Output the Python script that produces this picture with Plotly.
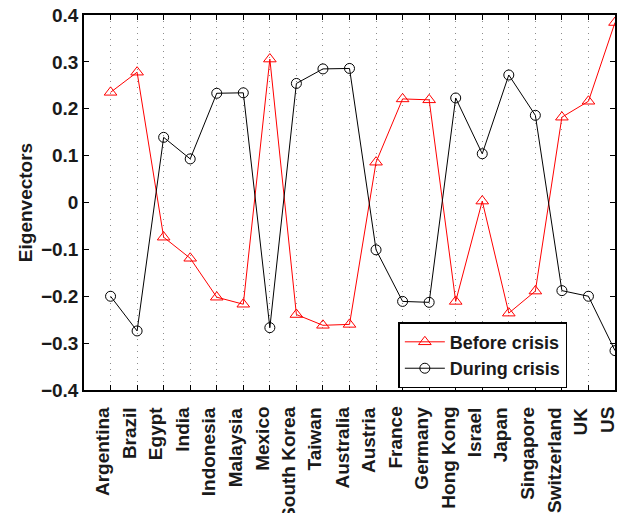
import plotly.graph_objects as go

countries = ["Argentina", "Brazil", "Egypt", "India", "Indonesia", "Malaysia", "Mexico",
             "South Korea", "Taiwan", "Australia", "Austria", "France", "Germany",
             "Hong Kong", "Israel", "Japan", "Singapore", "Switzerland", "UK", "US"]

before_crisis = [0.235, 0.278, -0.074, -0.119, -0.202, -0.217, 0.306,
                 -0.239, -0.262, -0.260, 0.086, 0.221, 0.219,
                 -0.211, 0.003, -0.236, -0.189, 0.182, 0.216, 0.384]

during_crisis = [-0.200, -0.274, 0.139, 0.093, 0.233, 0.234, -0.267,
                 0.254, 0.285, 0.286, -0.101, -0.211, -0.213,
                 0.223, 0.104, 0.272, 0.186, -0.188, -0.200, -0.316]

font_family = "Liberation Sans, Arial, sans-serif"
txt = "#1a1a1a"

fig = go.Figure()
fig.add_trace(go.Scatter(
    x=countries, y=before_crisis, mode="lines+markers", name="Before crisis",
    line=dict(color="#ff0000", width=1),
    marker=dict(symbol="triangle-up-open", size=11, color="#ff0000", line=dict(width=1)),
))
fig.add_trace(go.Scatter(
    x=countries, y=during_crisis, mode="lines+markers", name="During crisis",
    line=dict(color="#000000", width=1),
    marker=dict(symbol="circle-open", size=10, color="#000000", line=dict(width=1)),
))

# Category labels, rotated, placed just below the axis (slightly left of each tick)
for c in countries:
    fig.add_annotation(
        x=c, xref="x", y=0, yref="paper",
        text=c, showarrow=False, textangle=-90,
        xanchor="center", yanchor="top", xshift=-8, yshift=-15,
        font=dict(size=19, family=font_family, weight="bold", color=txt),
    )

fig.update_layout(
    width=619, height=513,
    margin=dict(l=84, r=4, t=15, b=123),
    paper_bgcolor="white", plot_bgcolor="white",
    font=dict(family=font_family, size=18, color=txt),
    showlegend=True,
    legend=dict(
        x=0.592, y=0.181, xanchor="left", yanchor="top",
        bgcolor="white", bordercolor="#000000", borderwidth=1.5,
        font=dict(size=18, family=font_family, color=txt, weight="bold"),
        itemwidth=40, tracegroupgap=0,
    ),
)

fig.update_xaxes(
    type="category", range=[-1, 19], automargin=False,
    showline=True, linecolor="black", linewidth=1.5, mirror="ticks",
    ticks="inside", ticklen=5, tickcolor="black",
    showticklabels=False,
    showgrid=True, gridcolor="#8c8c8c", griddash="1px,5px", gridwidth=1,
    zeroline=False,
)
fig.update_yaxes(
    range=[-0.4, 0.4], dtick=0.1, tickformat=".1~f", automargin=False,
    showline=True, linecolor="black", linewidth=1.5, mirror="ticks",
    ticks="inside", ticklen=5, tickcolor="black",
    tickfont=dict(size=19, family=font_family, weight="bold", color=txt),
    showgrid=False, zeroline=False,
    title=dict(text="Eigenvectors", font=dict(size=19, family=font_family, weight="bold", color=txt), standoff=3),
)

fig.write_html("out.html")
